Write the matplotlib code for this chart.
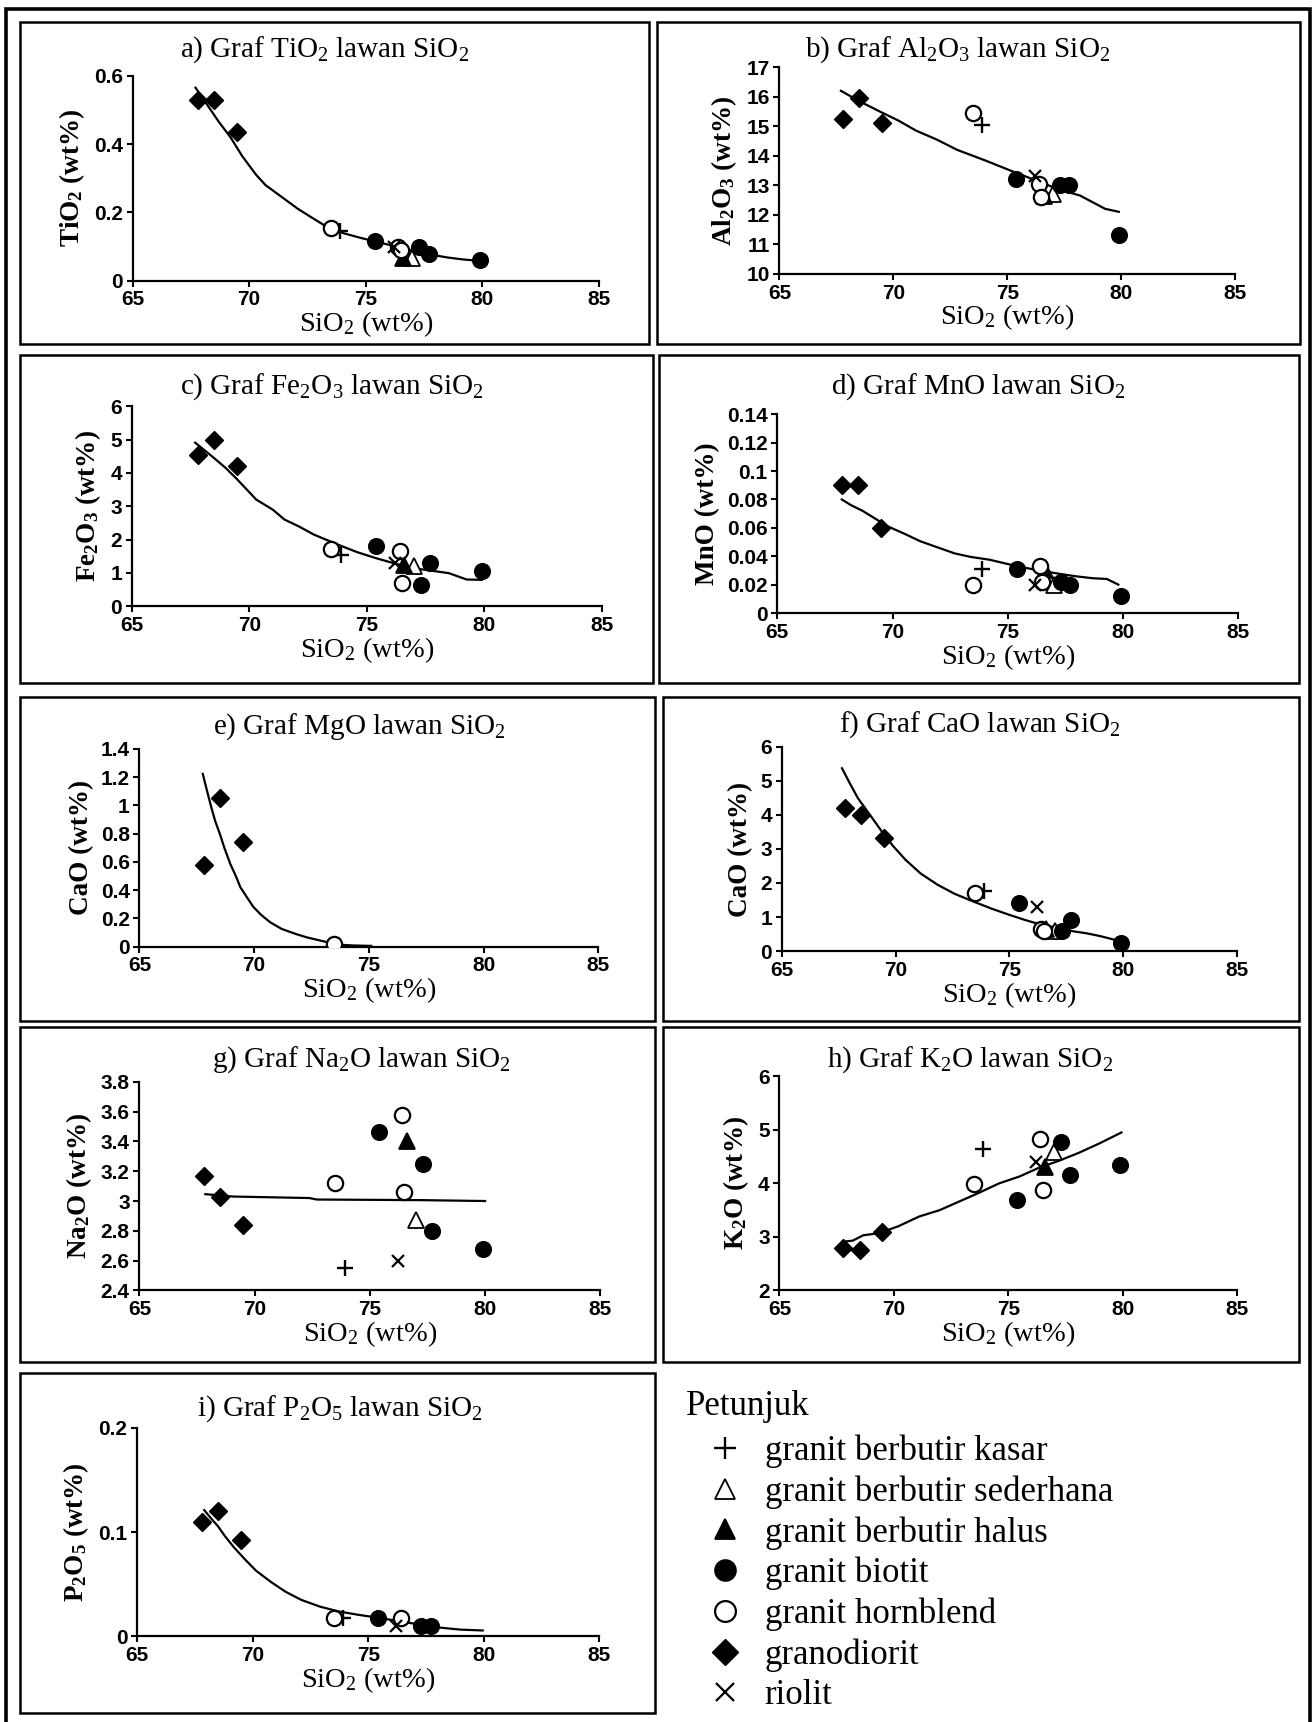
import numpy as np
import matplotlib
matplotlib.use('Agg')
import matplotlib.pyplot as plt
from matplotlib.lines import Line2D
from matplotlib.patches import Rectangle
from matplotlib.ticker import FuncFormatter

plt.rcParams.update({
    'font.family': 'serif',
    'font.serif': ['Liberation Serif', 'DejaVu Serif'],
    'mathtext.default': 'regular',
    'axes.linewidth': 1.6,
})
nan = np.nan

# rock groups (legend order)
groups = ['granit berbutir kasar', 'granit berbutir sederhana', 'granit berbutir halus',
          'granit biotit', 'granit hornblend', 'granodiorit', 'riolit']

# one entry per sample
sample_group = [0, 1, 2, 3, 3, 3, 3, 4, 4, 4, 5, 5, 5, 6]
sio2 = [73.9, 77.0, 76.6, 75.4, 77.3, 77.7, 79.9, 73.5, 76.4, 76.5, 67.8, 68.5, 69.5, 76.2]

tio2 = [0.145, 0.065, 0.065, 0.115, 0.10, 0.078, 0.06, 0.155, 0.10, 0.09, 0.53, 0.53, 0.435, 0.10]
al2o3 = [15.05, 12.7, 12.65, 13.2, 13.0, 13.0, 11.3, 15.45, 13.05, 12.6, 15.25, 15.95, 15.1, 13.3]
fe2o3 = [1.55, 1.2, 1.25, 1.8, 0.65, 1.3, 1.05, 1.72, 1.65, 0.7, 4.55, 5.0, 4.2, 1.3]
mno = [0.031, 0.02, 0.03, 0.031, 0.022, 0.02, 0.012, 0.02, 0.033, 0.022, 0.09, 0.09, 0.06, 0.02]
mgo = [nan, nan, nan, nan, nan, nan, nan, 0.015, nan, nan, 0.58, 1.05, 0.74, nan]
cao = [1.75, 0.6, 0.65, 1.4, 0.6, 0.9, 0.25, 1.7, 0.65, 0.6, 4.2, 4.0, 3.32, 1.3]
na2o = [2.55, 2.87, 3.4, 3.46, 3.25, 2.8, 2.68, 3.12, 3.58, 3.06, 3.17, 3.03, 2.84, 2.6]
k2o = [4.65, 4.58, 4.3, 3.68, 4.78, 4.15, 4.35, 3.98, 4.83, 3.87, 2.8, 2.75, 3.1, 4.4]
p2o5 = [0.018, nan, nan, 0.018, 0.01, 0.01, nan, 0.018, 0.018, nan, 0.11, 0.12, 0.092, 0.01]

# trend lines
trend_tio2_x = [67.7, 68.0, 68.3, 68.7, 69.2, 69.7, 70.3, 70.7, 71.2, 72.1, 72.8, 73.4, 74.1, 74.8, 75.7, 76.6, 77.5, 78.5, 79.2, 79.9]
trend_tio2_y = [0.565, 0.535, 0.505, 0.465, 0.42, 0.365, 0.31, 0.28, 0.255, 0.21, 0.18, 0.155, 0.138, 0.125, 0.11, 0.095, 0.08, 0.068, 0.062, 0.058]
trend_al2o3_x = [67.7, 68.5, 69.4, 70.2, 71.0, 71.9, 72.8, 74.0, 75.3, 76.3, 77.3, 78.2, 79.3, 79.9]
trend_al2o3_y = [16.2, 15.85, 15.5, 15.2, 14.85, 14.55, 14.2, 13.85, 13.45, 13.15, 12.85, 12.65, 12.2, 12.1]
trend_fe2o3_x = [67.7, 68.4, 69.0, 69.5, 70.3, 71.0, 71.5, 72.1, 72.75, 73.8, 74.6, 75.4, 76.2, 77.0, 77.8, 78.5, 79.25, 79.9]
trend_fe2o3_y = [4.91, 4.51, 4.15, 3.8, 3.2, 2.9, 2.6, 2.4, 2.15, 1.84, 1.62, 1.44, 1.28, 1.14, 1.06, 0.99, 0.8, 0.79]
trend_mno_x = [67.8, 68.2, 68.7, 69.2, 69.8, 70.5, 71.2, 72.0, 72.7, 73.4, 74.2, 75.4, 76.2, 77.1, 77.9, 78.7, 79.3, 79.8]
trend_mno_y = [0.08, 0.076, 0.072, 0.067, 0.061, 0.056, 0.0506, 0.046, 0.042, 0.0395, 0.0376, 0.033, 0.0305, 0.028, 0.026, 0.0245, 0.024, 0.02]
trend_mgo_x = [67.76, 67.95, 68.13, 68.3, 68.5, 68.7, 68.96, 69.2, 69.4, 69.7, 69.97, 70.3, 70.7, 71.2, 71.8, 72.3, 72.9, 73.65, 74.3, 75.1]
trend_mgo_y = [1.223, 1.1, 0.987, 0.89, 0.80, 0.70, 0.585, 0.50, 0.42, 0.345, 0.28, 0.225, 0.172, 0.125, 0.09, 0.065, 0.042, 0.014, 0.008, 0.005]
trend_cao_x = [67.65, 68.0, 68.35, 68.9, 69.4, 69.9, 70.44, 71.1, 71.84, 72.6, 73.4, 74.2, 74.97, 75.7, 76.37, 77.1, 77.76, 78.4, 78.98, 79.86]
trend_cao_y = [5.37, 4.92, 4.49, 3.98, 3.51, 3.08, 2.68, 2.28, 1.95, 1.68, 1.46, 1.25, 1.07, 0.91, 0.78, 0.68, 0.585, 0.52, 0.44, 0.29]
trend_na2o_x = [67.86, 69.06, 72.37, 72.7, 77.17, 80.0]
trend_na2o_y = [3.046, 3.03, 3.02, 3.01, 3.006, 3.0]
trend_k2o_x = [67.76, 68.2, 68.66, 69.36, 70.2, 71.1, 72.0, 72.85, 73.7, 74.6, 75.5, 76.33, 77.2, 78.08, 79.0, 79.94]
trend_k2o_y = [2.91, 2.93, 3.03, 3.07, 3.2, 3.38, 3.5, 3.66, 3.82, 4.0, 4.13, 4.29, 4.42, 4.57, 4.75, 4.95]
trend_p2o5_x = [67.9, 68.2, 68.49, 68.8, 69.2, 69.7, 70.14, 70.8, 71.42, 72.1, 72.9, 73.7, 74.54, 75.4, 76.38, 77.3, 78.2, 79.0, 79.95]
trend_p2o5_y = [0.121, 0.113, 0.1057, 0.096, 0.085, 0.073, 0.063, 0.052, 0.0428, 0.035, 0.0286, 0.024, 0.0208, 0.018, 0.0145, 0.011, 0.0082, 0.0065, 0.0057]

# marker style per group
styles = [
    dict(marker='+', ms=12, mew=1.7, mfc='black', mec='black'),
    dict(marker='^', ms=11, mew=1.3, mfc='white', mec='black'),
    dict(marker='^', ms=11, mew=1.3, mfc='black', mec='black'),
    dict(marker='o', ms=11, mew=1.3, mfc='black', mec='black'),
    dict(marker='o', ms=11, mew=1.6, mfc='white', mec='black'),
    dict(marker='D', ms=9.5, mew=1.0, mfc='black', mec='black'),
    dict(marker='x', ms=9, mew=1.6, mfc='black', mec='black'),
]

panels = [
    # title, ylabel, values, trend x, trend y, ylim, ystep, axes rect, title pos
    ('a) Graf TiO$_2$ lawan SiO$_2$', 'TiO$_2$ (wt%)', tio2, trend_tio2_x, trend_tio2_y,
     (0, 0.6), 0.2, [0.101, 0.837, 0.355, 0.119], (0.2475, 0.9713)),
    ('b) Graf Al$_2$O$_3$ lawan SiO$_2$', 'Al$_2$O$_3$ (wt%)', al2o3, trend_al2o3_x, trend_al2o3_y,
     (10, 17), 1, [0.5936, 0.841, 0.347, 0.120], (0.729, 0.9713)),
    ('c) Graf Fe$_2$O$_3$ lawan SiO$_2$', 'Fe$_2$O$_3$ (wt%)', fe2o3, trend_fe2o3_x, trend_fe2o3_y,
     (0, 6), 1, [0.1003, 0.648, 0.358, 0.116], (0.2525, 0.7755)),
    ('d) Graf MnO lawan SiO$_2$', 'MnO (wt%)', mno, trend_mno_x, trend_mno_y,
     (0, 0.14), 0.02, [0.592, 0.644, 0.351, 0.1154], (0.745, 0.7755)),
    ('e) Graf MgO lawan SiO$_2$', 'CaO (wt%)', mgo, trend_mgo_x, trend_mgo_y,
     (0, 1.4), 0.2, [0.1062, 0.4503, 0.3495, 0.1148], (0.274, 0.5778)),
    ('f) Graf CaO lawan SiO$_2$', 'CaO (wt%)', cao, trend_cao_x, trend_cao_y,
     (0, 6), 1, [0.5953, 0.4477, 0.347, 0.1186], (0.746, 0.579)),
    ('g) Graf Na$_2$O lawan SiO$_2$', 'Na$_2$O (wt%)', na2o, trend_na2o_x, trend_na2o_y,
     (2.4, 3.8), 0.2, [0.1062, 0.2506, 0.351, 0.1212], (0.275, 0.3846)),
    ('h) Graf K$_2$O lawan SiO$_2$', 'K$_2$O (wt%)', k2o, trend_k2o_x, trend_k2o_y,
     (2, 6), 1, [0.5936, 0.2506, 0.3487, 0.1244], (0.739, 0.3846)),
    ('i) Graf P$_2$O$_5$ lawan SiO$_2$', 'P$_2$O$_5$ (wt%)', p2o5, trend_p2o5_x, trend_p2o5_y,
     (0, 0.2), 0.1, [0.1045, 0.0497, 0.352, 0.1212], (0.259, 0.1818)),
]

# boxes around each chart (figure fractions)
frames = [
    (0.0151, 0.8004, 0.4941, 0.9872), (0.5000, 0.8004, 0.9900, 0.9872),
    (0.0151, 0.6033, 0.4975, 0.7940), (0.5017, 0.6033, 0.9891, 0.7940),
    (0.0151, 0.4069, 0.4992, 0.5950), (0.5050, 0.4069, 0.9891, 0.5950),
    (0.0151, 0.2092, 0.4992, 0.4037), (0.5050, 0.2092, 0.9891, 0.4037),
    (0.0151, 0.0051, 0.4992, 0.2028),
]

fig = plt.figure(figsize=(13.13, 17.22), dpi=100)

fig.add_artist(Rectangle((0.0042, -0.02), 0.9933, 1.0149, transform=fig.transFigure,
                         fill=False, lw=2.6, ec='black'))
for x0, y0, x1, y1 in frames:
    fig.add_artist(Rectangle((x0, y0), x1 - x0, y1 - y0, transform=fig.transFigure,
                             fill=False, lw=1.8, ec='black'))

fmt = FuncFormatter(lambda v, p: '{:g}'.format(round(v, 4)))
sio2_arr = np.array(sio2)
grp_arr = np.array(sample_group)

for title, ylab, vals, tx, ty, ylim, ystep, rect, tpos in panels:
    ax = fig.add_axes(rect)
    vals = np.array(vals)
    ax.plot(tx, ty, color='black', lw=1.6, zorder=2)
    for g, st in enumerate(styles):
        m = (grp_arr == g) & ~np.isnan(vals)
        if m.any():
            ax.plot(sio2_arr[m], vals[m], ls='none', zorder=3, **st)
    ax.set_xlim(65, 85)
    ax.set_ylim(*ylim)
    ax.set_xticks(np.arange(65, 86, 5))
    ax.set_yticks(np.arange(ylim[0], ylim[1] + ystep / 2, ystep))
    ax.yaxis.set_major_formatter(fmt)
    ax.spines['top'].set_visible(False)
    ax.spines['right'].set_visible(False)
    ax.tick_params(direction='out', length=4, width=1.5, pad=3)
    for lab in ax.get_xticklabels() + ax.get_yticklabels():
        lab.set_fontfamily('Liberation Sans')
        lab.set_fontweight('bold')
        lab.set_fontsize(15)
    ax.set_xlabel('SiO$_2$ (wt%)', fontsize=20.5, labelpad=0)
    ax.set_ylabel(ylab, fontsize=19.5, fontweight='bold', labelpad=5)
    ax.patch.set_alpha(0)
    fig.text(tpos[0], tpos[1], title, fontsize=21, ha='center', va='center')

# legend
fig.text(0.5226, 0.1830, 'Petunjuk', fontsize=25, ha='left', va='center')
handles = [Line2D([], [], ls='none', **dict(st, ms=st['ms'] + 4)) for st in styles]
fig.legend(handles, groups, loc='upper left', bbox_to_anchor=(0.539, 0.167),
           frameon=False, fontsize=25, handlelength=1.0, handletextpad=0.64,
           labelspacing=0.21, borderpad=0, borderaxespad=0)

fig.savefig('out.png', dpi=100)
